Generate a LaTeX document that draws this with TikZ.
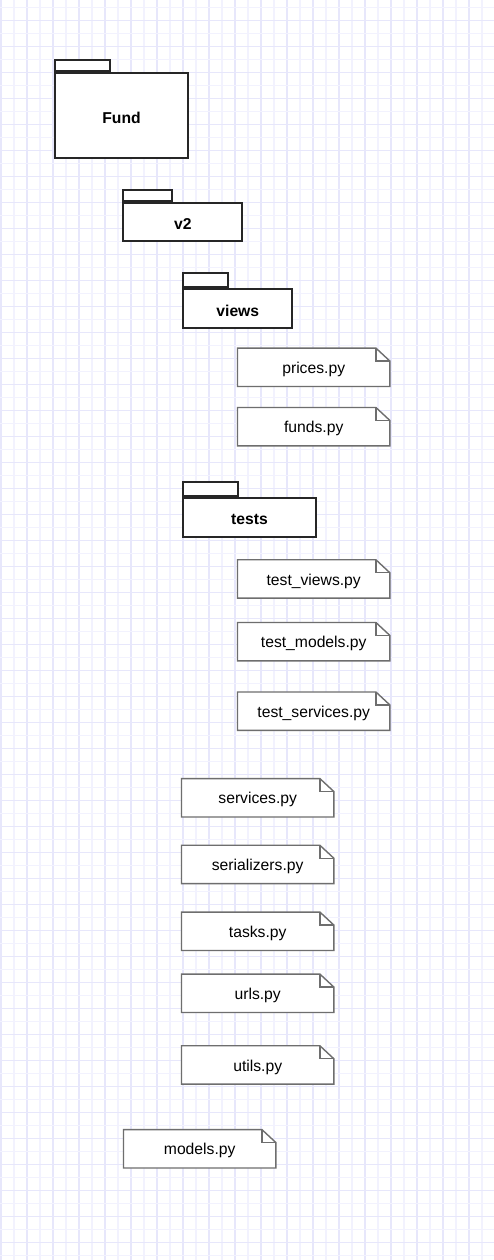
\documentclass[tikz,border=0pt]{standalone}
\usepackage{fontspec}
\setmainfont{Liberation Sans}
\usetikzlibrary{calc}
\definecolor{gridA}{RGB}{231,231,251}
\definecolor{gridB}{RGB}{242,242,254}
\definecolor{noteline}{RGB}{110,110,110}
\newcommand\notefont{\fontsize{15.7}{18}\selectfont}
\newcommand\pkgfont{\fontsize{15.7}{18}\selectfont\bfseries}
\tikzset{
  notebox/.style={minimum width=152pt, minimum height=38pt, inner sep=0pt, font=\notefont},
  notetext/.style={inner sep=0pt, font=\notefont, yshift=-2pt},
  noteout/.style={draw=noteline, line width=1.4pt, fill=white, line join=miter},
  pkgbody/.style={draw=black!85, line width=2pt, fill=white, inner sep=0pt},
  pkglabel/.style={inner sep=0pt, font=\pkgfont, yshift=-2pt},
  pkgtab/.style={draw=black!85, line width=2pt, fill=white, inner sep=0pt, anchor=south west}
}
\newcommand\notedraw[1]{%
  \path[noteout] (#1.north west) -- ($(#1.north east)+(-14pt,0)$) -- ($(#1.north east)+(0,-13pt)$) -- (#1.south east) -- (#1.south west) -- cycle;
  \draw[noteline, line width=1.4pt] ($(#1.north east)+(-14pt,0)$) -- ($(#1.north east)+(-14pt,-13pt)$) -- ($(#1.north east)+(0,-13pt)$);
}
\begin{document}
\begin{tikzpicture}[x=1pt,y=1pt]
\useasboundingbox (0,0) rectangle (494,1260);
\fill[white] (0,0) rectangle (494,1260);
% grid
\foreach \k in {0,...,37} {
  \pgfmathtruncatemacro{\m}{mod(\k,2)}
  \ifnum\m=0 \draw[gridA, line width=1.1pt] (13*\k+1,0) -- (13*\k+1,1260);
  \else \draw[gridB, line width=1.1pt] (13*\k+1,0) -- (13*\k+1,1260); \fi
}
\foreach \k in {0,...,96} {
  \pgfmathtruncatemacro{\m}{mod(\k,2)}
  \ifnum\m=1 \draw[gridA, line width=1.1pt] (0,1252.3-13*\k) -- (494,1252.3-13*\k);
  \else \draw[gridB, line width=1.1pt] (0,1252.3-13*\k) -- (494,1252.3-13*\k); \fi
}
% packages
\node[pkgbody, minimum width=133pt, minimum height=85pt] (fund) at (121.5,1144.2) {};
\node[pkgtab, minimum width=55pt, minimum height=11.6pt] (fundtab) at (fund.north west) {};
\node[pkglabel] (fundlbl) at (fund) {Fund};
\node[pkgbody, minimum width=119pt, minimum height=38pt] (v2) at (182.8,1037.85) {};
\node[pkgtab, minimum width=48.7pt, minimum height=11.3pt] (v2tab) at (v2.north west) {};
\node[pkglabel] (v2lbl) at (v2) {v2};
\node[pkgbody, minimum width=109pt, minimum height=39pt] (views) at (237.8,951.35) {};
\node[pkgtab, minimum width=45pt, minimum height=14pt] (viewstab) at (views.north west) {};
\node[pkglabel] (viewslbl) at (views) {views};
\node[pkgbody, minimum width=132.4pt, minimum height=39pt] (tests) at (249.5,742.8) {};
\node[pkgtab, minimum width=54.4pt, minimum height=14pt] (teststab) at (tests.north west) {};
\node[pkglabel] (testslbl) at (tests) {tests};
% notes (shapes)
\node[notebox] (prices) at (313.7,892.7) {};
\node[notebox] (funds) at (313.7,833.3) {};
\node[notebox] (tviews) at (313.7,681) {};
\node[notebox] (tmodels) at (313.7,618.3) {};
\node[notebox] (tservices) at (313.7,548.8) {};
\node[notebox] (services) at (257.7,462.2) {};
\node[notebox] (serializers) at (257.7,395.5) {};
\node[notebox] (tasks) at (257.7,328.7) {};
\node[notebox] (urls) at (257.7,266.7) {};
\node[notebox] (utils) at (257.7,195) {};
\node[notebox] (models) at (199.7,111.2) {};
\foreach \n in {prices,funds,tviews,tmodels,tservices,services,serializers,tasks,urls,utils,models} {\notedraw{\n}}
% note texts
\node[notetext] at (prices) {prices.py};
\node[notetext] at (funds) {funds.py};
\node[notetext] at (tviews) {test\_views.py};
\node[notetext] at (tmodels) {test\_models.py};
\node[notetext] at (tservices) {test\_services.py};
\node[notetext] at (services) {services.py};
\node[notetext] at (serializers) {serializers.py};
\node[notetext] at (tasks) {tasks.py};
\node[notetext] at (urls) {urls.py};
\node[notetext] at (utils) {utils.py};
\node[notetext] at (models) {models.py};
\end{tikzpicture}
\end{document}
